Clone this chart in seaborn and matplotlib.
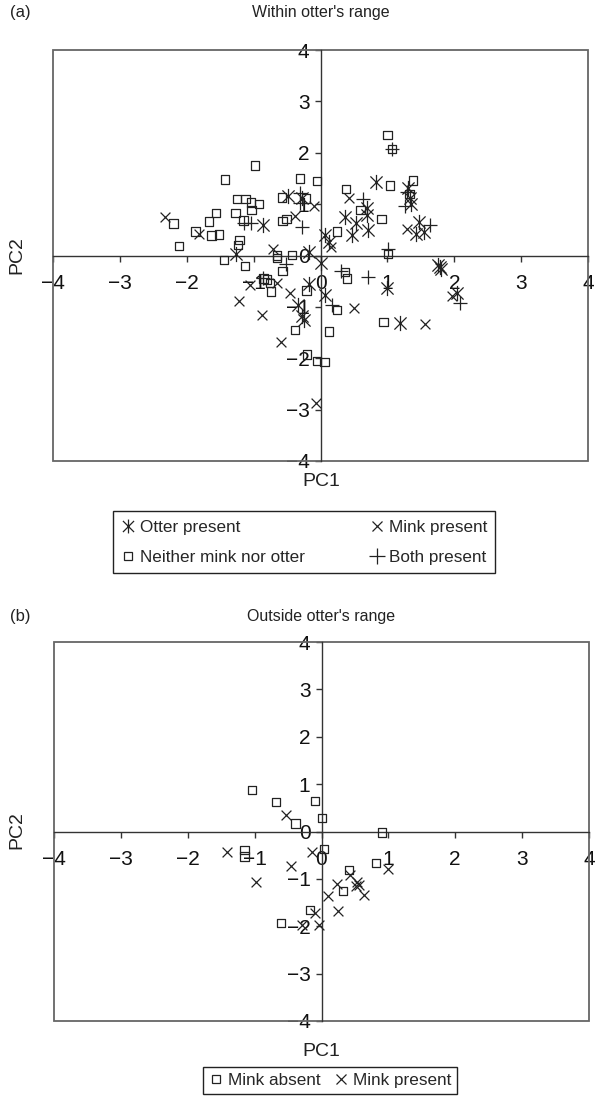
import numpy as np
import pandas as pd
import seaborn as sns
import matplotlib.pyplot as plt
from matplotlib.lines import Line2D
from matplotlib.patches import Rectangle
from matplotlib.path import Path

sns.set_style("white")
plt.rcParams['font.family'] = ['Liberation Sans', 'DejaVu Sans']

# ---- panel (a): within otter's range ----
otter_x = [-0.86, -0.49, -0.27, -1.26, -0.17, 0.00, -0.17, -0.34, -0.25, -0.27, 0.07, 0.99,
           1.75, 1.78, 1.80, 2.04, 1.19, 0.83, 1.31, 1.34, 1.36, 0.70, 0.70, 0.37, 0.53,
           0.71, 0.47, 0.07, 0.12, 1.48, 1.43, 1.55]
otter_y = [0.60, 1.16, 1.12, 0.02, 0.07, -0.15, -0.56, -0.97, -1.25, -1.18, -0.76, -0.64,
           -0.18, -0.22, -0.26, -0.73, -1.32, 1.44, 1.32, 1.12, 1.00, 0.78, 0.92, 0.75, 0.63,
           0.49, 0.39, 0.40, 0.26, 0.66, 0.41, 0.45]

mink_x = [-2.32, -1.82, -0.38, -0.10, -0.71, -1.06, -0.65, -1.22, -0.88, -0.45, -0.59,
          0.16, 0.50, 1.57, 1.97, -0.06, 0.42, 1.30]
mink_y = [0.75, 0.41, 0.76, 0.96, 0.13, -0.58, -0.53, -0.89, -1.15, -0.73, -1.69,
          0.16, -1.03, -1.34, -0.79, -2.87, 1.11, 0.52]

neither_x = [-2.20, -2.12, -1.87, -1.63, -1.52, -1.67, -1.56, -1.43, -0.98, -1.25, -1.12,
             -1.04, -0.92, -1.03, -1.27, -1.15, -1.21, -1.23, -0.58, -0.31, -0.05, -0.22,
             -0.57, -0.51, -0.65, -0.43, -1.44, -1.13, -0.65, -0.57, -0.85, -0.80, -0.76,
             -0.74, -0.21, -0.38, -0.20, -0.05, 0.06, 0.37, 0.40, 1.01, 0.25, 0.13, 0.94,
             1.00, 1.07, 1.04, 1.38, 1.33, 0.38, 0.60, 0.91, 0.25]
neither_y = [0.62, 0.18, 0.47, 0.39, 0.41, 0.66, 0.83, 1.48, 1.75, 1.10, 1.10,
             1.03, 1.00, 0.89, 0.83, 0.68, 0.30, 0.20, 1.13, 1.50, 1.45, 1.11,
             0.67, 0.71, 0.00, 0.01, -0.09, -0.20, -0.05, -0.30, -0.45, -0.47, -0.53,
             -0.70, -0.68, -1.45, -1.93, -2.05, -2.07, -0.32, -0.45, 0.03, -1.06, -1.48, -1.30,
             2.34, 2.07, 1.36, 1.46, 1.20, 1.30, 0.89, 0.71, 0.47]

both_x = [-1.14, -1.04, -0.30, -0.28, -0.52, -0.86, 0.30, 0.71, 1.01, 1.07, 1.30, 1.27,
          0.64, 1.63, 2.08, 0.17, -0.30]
both_y = [0.63, 0.63, 1.02, 0.55, -0.17, -0.43, -0.31, -0.41, 0.12, 2.07, 1.24, 0.97,
          1.10, 0.60, -0.93, -0.97, 1.21]

# ---- panel (b): outside otter's range ----
absent_x = [-1.04, -0.68, -0.39, -0.10, 0.01, 0.90, 0.04, -1.15, -1.15, 0.81, 0.41, 0.32,
            -0.17, -0.61]
absent_y = [0.88, 0.62, 0.17, 0.65, 0.28, -0.02, -0.37, -0.39, -0.53, -0.67, -0.81, -1.26,
            -1.66, -1.93]
present_x = [-0.53, -0.14, -1.41, -0.45, -0.98, 1.00, 0.42, 0.53, 0.56, 0.52, 0.64, 0.23,
             0.09, 0.24, -0.09, -0.29, -0.03]
present_y = [0.35, -0.43, -0.44, -0.73, -1.07, -0.80, -0.92, -1.07, -1.12, -1.15, -1.34,
             -1.11, -1.36, -1.67, -1.73, -1.98, -1.98]

ticks = [-4, -3, -2, -1, 0, 1, 2, 3, 4]
INK = '#222222'

# asterisk: an X with a vertical bar through it
ASTER = Path([(0, -1), (0, 1), (-0.8, -0.8), (0.8, 0.8), (-0.8, 0.8), (0.8, -0.8)],
             [Path.MOVETO, Path.LINETO] * 3)

W, H = 595, 1098
fig = plt.figure(figsize=(W / 100, H / 100), dpi=100)


def px_axes(left, top, right, bottom):
    return fig.add_axes([left / W, 1 - bottom / H, (right - left) / W, (bottom - top) / H])


def style_axes(ax):
    ax.set_xlim(-4, 4)
    ax.set_ylim(-4, 4)
    ax.spines['left'].set_position(('data', 0))
    ax.spines['bottom'].set_position(('data', 0))
    ax.spines['top'].set_visible(False)
    ax.spines['right'].set_visible(False)
    for s in ['left', 'bottom']:
        ax.spines[s].set_color('#333333')
        ax.spines[s].set_linewidth(1.0)
    ax.add_patch(Rectangle((0, 0), 1, 1, transform=ax.transAxes, fill=False,
                           edgecolor='#666666', lw=1.3, zorder=1.5, clip_on=False))
    ax.set_xticks(ticks)
    ax.set_yticks(ticks)
    ax.set_xticklabels([f'\u2212{abs(t)}' if t < 0 else str(t) for t in ticks])
    ax.set_yticklabels([f'\u2212{abs(t)}' if t < 0 else str(t) for t in ticks])
    ax.tick_params(axis='both', direction='out', length=4, width=1, color='#333333',
                   labelsize=15, labelcolor='#111111', bottom=True, left=True)
    ax.tick_params(axis='x', pad=9)
    ax.tick_params(axis='y', pad=4)
    ax.set_xlabel('')
    ax.set_ylabel('')


def scatter(ax, xs, ys, marker, size, filled_none=False):
    df = pd.DataFrame({'x': xs, 'y': ys})
    if filled_none:
        sns.scatterplot(data=df, x='x', y='y', marker=marker, s=size, ax=ax,
                        facecolor='none', edgecolor=INK, linewidth=0.9, zorder=3)
    else:
        sns.scatterplot(data=df, x='x', y='y', marker=marker, s=size, ax=ax,
                        color=INK, edgecolor=INK, linewidth=0.9, zorder=3)


# panel (a)
ax1 = px_axes(53, 50, 588, 461)
scatter(ax1, neither_x, neither_y, 's', 36, filled_none=True)
scatter(ax1, mink_x, mink_y, 'x', 50)
scatter(ax1, both_x, both_y, '+', 100)
scatter(ax1, otter_x, otter_y, ASTER, 120)
style_axes(ax1)

fig.text(10 / W, 1 - 13 / H, '(a)', fontsize=12, va='center', ha='left', color=INK)
fig.text(321 / W, 1 - 13 / H, "Within otter's range", fontsize=11.5, va='center',
         ha='center', color=INK)
fig.text(17 / W, 1 - 255 / H, 'PC2', fontsize=14, rotation=90, va='center',
         ha='center', color=INK)
fig.text(321 / W, 1 - 482 / H, 'PC1', fontsize=14, va='center', ha='center', color=INK)

h_a = [
    Line2D([], [], ls='', marker=ASTER, ms=10, color=INK, mew=0.9, label='Otter present'),
    Line2D([], [], ls='', marker='s', ms=6, mfc='none', mec=INK, mew=0.9,
           label='Neither mink nor otter'),
    Line2D([], [], ls='', marker='x', ms=7, color=INK, mew=0.9, label='Mink present'),
    Line2D([], [], ls='', marker='+', ms=11, color=INK, mew=0.9, label='Both present'),
]
leg_a = fig.legend(handles=h_a, ncol=2, loc='upper center',
                   bbox_to_anchor=(304 / W, 1 - 511 / H), fontsize=12.3,
                   frameon=True, fancybox=False, edgecolor='#222222', framealpha=1,
                   handlelength=0.8, handletextpad=0.3, columnspacing=3.8,
                   borderpad=0.5, labelspacing=0.9, borderaxespad=0)
leg_a.get_frame().set_linewidth(1.0)

# panel (b)
ax2 = px_axes(54, 642, 589, 1021)
scatter(ax2, absent_x, absent_y, 's', 36, filled_none=True)
scatter(ax2, present_x, present_y, 'x', 50)
style_axes(ax2)

fig.text(10 / W, 1 - 617 / H, '(b)', fontsize=12, va='center', ha='left', color=INK)
fig.text(321 / W, 1 - 617 / H, "Outside otter's range", fontsize=11.5, va='center',
         ha='center', color=INK)
fig.text(17 / W, 1 - 830 / H, 'PC2', fontsize=14, rotation=90, va='center',
         ha='center', color=INK)
fig.text(321 / W, 1 - 1052 / H, 'PC1', fontsize=14, va='center', ha='center', color=INK)

h_b = [
    Line2D([], [], ls='', marker='s', ms=6, mfc='none', mec=INK, mew=0.9, label='Mink absent'),
    Line2D([], [], ls='', marker='x', ms=7, color=INK, mew=0.9, label='Mink present'),
]
leg_b = fig.legend(handles=h_b, ncol=2, loc='upper center',
                   bbox_to_anchor=(330 / W, 1 - 1067 / H), fontsize=12.3,
                   frameon=True, fancybox=False, edgecolor='#222222', framealpha=1,
                   handlelength=0.8, handletextpad=0.3, columnspacing=0.8,
                   borderpad=0.35, borderaxespad=0)
leg_b.get_frame().set_linewidth(1.0)

fig.savefig('out.png', dpi=100)
